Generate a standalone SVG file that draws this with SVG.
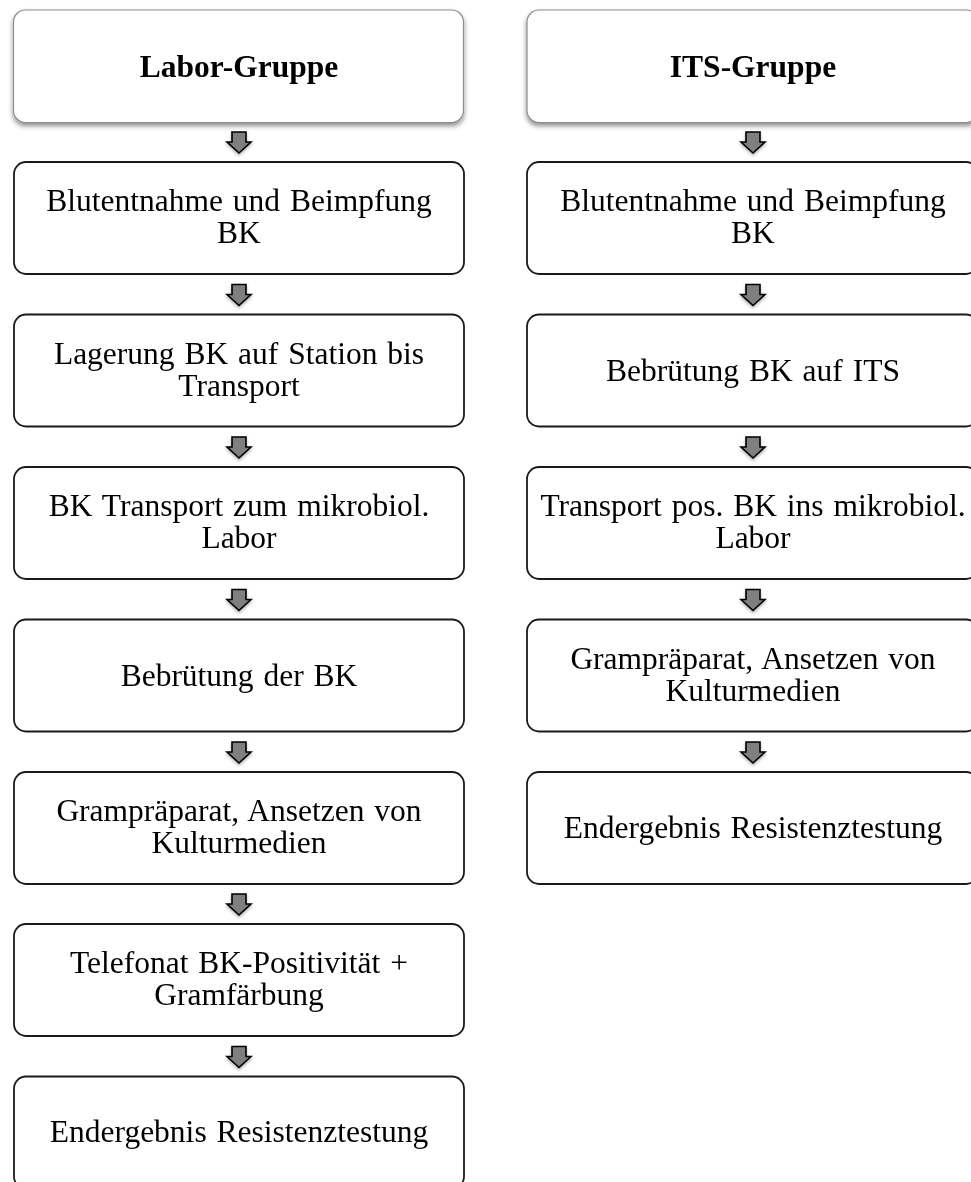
<svg xmlns="http://www.w3.org/2000/svg" width="971" height="1182" viewBox="0 0 971 1182">
<defs>
<style>
.box{fill:#fff;stroke:#1a1a1a;stroke-width:1.8}
.hdr{fill:#fff;stroke:#8c8c8c;stroke-width:1.2}
.t{font-family:"Liberation Serif","Times New Roman",serif;font-size:31.5px;fill:#000;text-anchor:middle;word-spacing:2px}
.h{font-family:"Liberation Serif","Times New Roman",serif;font-size:31.5px;font-weight:bold;fill:#000;text-anchor:middle}
.arr{fill:#7f7f7f;stroke:#000;stroke-width:1.6;stroke-linejoin:miter}
</style>
<filter id="sh" x="-10%" y="-20%" width="120%" height="150%">
<feDropShadow dx="0" dy="3" stdDeviation="2.5" flood-color="#000" flood-opacity="0.45"/>
</filter>
<filter id="ash" x="-50%" y="-50%" width="200%" height="200%">
<feDropShadow dx="0" dy="2" stdDeviation="1.5" flood-color="#000" flood-opacity="0.3"/>
</filter>
<path id="a" class="arr" d="M-7,0 H7 V10 H12 L0,21 L-12,10 H-7 Z"/>
</defs>
<rect width="971" height="1182" fill="#fff"/>

<g id="connectors" filter="url(#ash)">
<use href="#a" x="239" y="132"/>
<use href="#a" x="239" y="284.5"/>
<use href="#a" x="239" y="437"/>
<use href="#a" x="239" y="589.5"/>
<use href="#a" x="239" y="742"/>
<use href="#a" x="239" y="894"/>
<use href="#a" x="239" y="1046.5"/>
<use href="#a" x="753" y="132"/>
<use href="#a" x="753" y="284.5"/>
<use href="#a" x="753" y="437"/>
<use href="#a" x="753" y="589.5"/>
<use href="#a" x="753" y="742"/>
</g>

<g id="labor-header">
<rect class="hdr" x="13.5" y="10" width="450" height="112.5" rx="12" filter="url(#sh)"/>
<text class="h" x="239" y="77">Labor-Gruppe</text>
</g>
<g id="its-header">
<rect class="hdr" x="527" y="10" width="451" height="112.5" rx="12" filter="url(#sh)"/>
<text class="h" x="753" y="77">ITS-Gruppe</text>
</g>

<g id="L1">
<rect class="box" x="14" y="162" width="450" height="112" rx="12"/>
<text class="t" x="239" y="211">Blutentnahme und Beimpfung</text>
<text class="t" x="239" y="243">BK</text>
</g>
<g id="L2">
<rect class="box" x="14" y="314.5" width="450" height="112" rx="12"/>
<text class="t" x="239" y="363.5">Lagerung BK auf Station bis</text>
<text class="t" x="239" y="395.5">Transport</text>
</g>
<g id="L3">
<rect class="box" x="14" y="467" width="450" height="112" rx="12"/>
<text class="t" x="239" y="516">BK Transport zum mikrobiol.</text>
<text class="t" x="239" y="548">Labor</text>
</g>
<g id="L4">
<rect class="box" x="14" y="619.5" width="450" height="112" rx="12"/>
<text class="t" x="239" y="685.5">Bebrütung der BK</text>
</g>
<g id="L5">
<rect class="box" x="14" y="772" width="450" height="112" rx="12"/>
<text class="t" x="239" y="821">Grampräparat, Ansetzen von</text>
<text class="t" x="239" y="853">Kulturmedien</text>
</g>
<g id="L6">
<rect class="box" x="14" y="924" width="450" height="112" rx="12"/>
<text class="t" x="239" y="973">Telefonat BK-Positivität +</text>
<text class="t" x="239" y="1005">Gramfärbung</text>
</g>
<g id="L7">
<rect class="box" x="14" y="1076.5" width="450" height="112" rx="12"/>
<text class="t" x="239" y="1142">Endergebnis Resistenztestung</text>
</g>

<g id="R1">
<rect class="box" x="527" y="162" width="451" height="112" rx="12"/>
<text class="t" x="753" y="211">Blutentnahme und Beimpfung</text>
<text class="t" x="753" y="243">BK</text>
</g>
<g id="R2">
<rect class="box" x="527" y="314.5" width="451" height="112" rx="12"/>
<text class="t" x="753" y="380.5">Bebrütung BK auf ITS</text>
</g>
<g id="R3">
<rect class="box" x="527" y="467" width="451" height="112" rx="12"/>
<text class="t" x="753" y="516">Transport pos. BK ins mikrobiol.</text>
<text class="t" x="753" y="548">Labor</text>
</g>
<g id="R4">
<rect class="box" x="527" y="619.5" width="451" height="112" rx="12"/>
<text class="t" x="753" y="668.5">Grampräparat, Ansetzen von</text>
<text class="t" x="753" y="700.5">Kulturmedien</text>
</g>
<g id="R5">
<rect class="box" x="527" y="772" width="451" height="112" rx="12"/>
<text class="t" x="753" y="838">Endergebnis Resistenztestung</text>
</g>
</svg>
